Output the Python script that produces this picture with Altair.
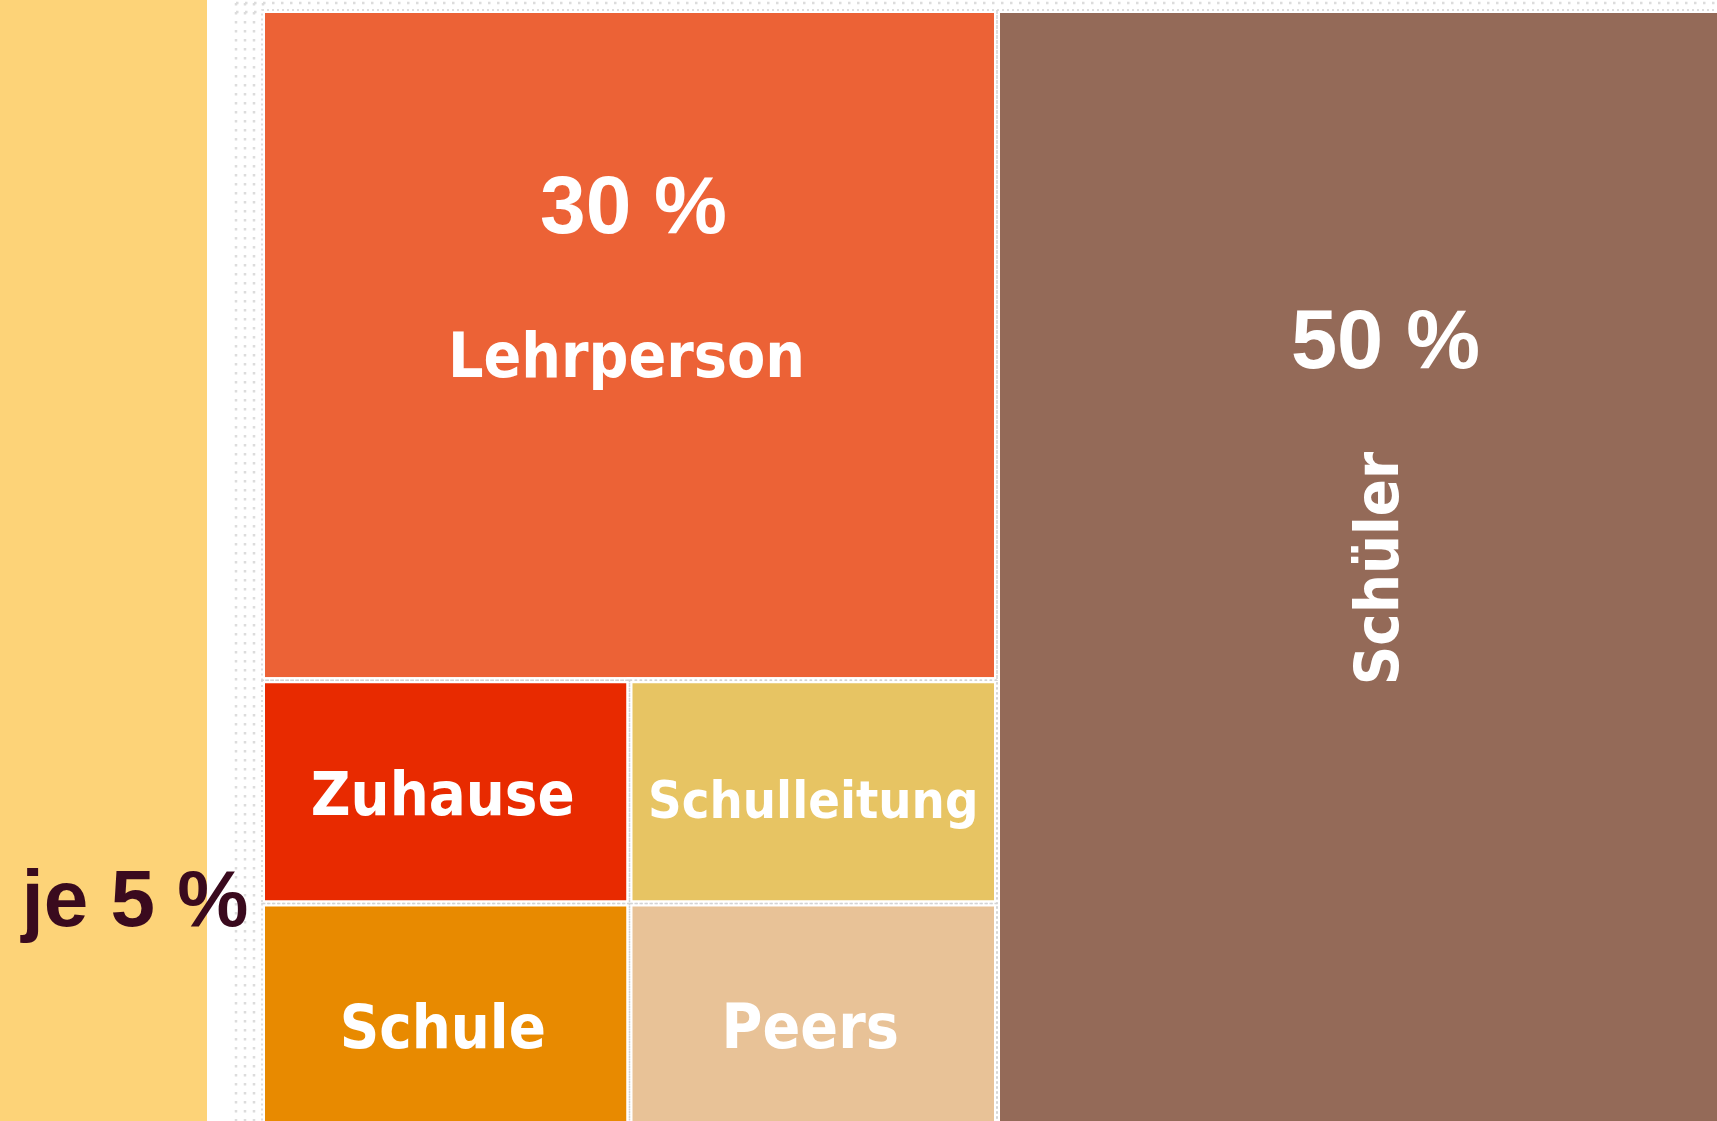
import altair as alt
import pandas as pd

# ---- data -------------------------------------------------------------
categories = ["Schüler", "Lehrperson", "Zuhause", "Schulleitung", "Schule", "Peers"]
shares = [50, 30, 5, 5, 5, 5]
colors = ["#946A58", "#EC6236", "#E82A00", "#E7C463", "#E88A00", "#E8C297"]
pct_labels = {"Schüler": "50 %", "Lehrperson": "30 %"}
side_label = "je 5 %"

# ---- treemap layout (slice and dice on a 0..100 square) ----------------
big, second = shares[0], shares[1]
left_w = 100 - big
rows = [dict(cat=categories[0], share=shares[0], x0=left_w, x1=100, y0=0, y1=100)]
h2 = second / left_w * 100
rows.append(dict(cat=categories[1], share=shares[1], x0=0, x1=left_w, y0=0, y1=h2))
small = categories[2:]
cw = left_w / 2
ch = (100 - h2) / 2
for i, c in enumerate(small):
    r, col = divmod(i, 2)
    rows.append(dict(cat=c, share=shares[2 + i], x0=col * cw, x1=(col + 1) * cw,
                     y0=h2 + r * ch, y1=h2 + (r + 1) * ch))
df = pd.DataFrame(rows)
df["cx"] = (df.x0 + df.x1) / 2
df["cy"] = (df.y0 + df.y1) / 2

X = alt.Scale(domain=[0, 100], range=[262, 1732])
Y = alt.Scale(domain=[0, 100], range=[10, 1127])

base = alt.Chart(df)

strip = alt.Chart(pd.DataFrame({"k": [0]})).mark_rect(color="#FDD378").encode(
    x=alt.value(0), x2=alt.value(207), y=alt.value(0), y2=alt.value(1121)
)

rects = base.mark_rect(stroke="white", strokeWidth=6).encode(
    x=alt.X("x0:Q", scale=X, axis=None),
    x2="x1:Q",
    y=alt.Y("y0:Q", scale=Y, axis=None),
    y2="y1:Q",
    color=alt.Color("cat:N", scale=alt.Scale(domain=categories, range=colors), legend=None),
)

edges = base.mark_rect(fillOpacity=0, stroke="#d4d4d4", strokeWidth=1.5,
                       strokeDash=[2, 3]).encode(
    x=alt.X("x0:Q", scale=X, axis=None), x2="x1:Q",
    y=alt.Y("y0:Q", scale=Y, axis=None), y2="y1:Q",
)

# background dot grid (decoration)
dotdf = pd.DataFrame({"k": [0]})
dots = []
for px in range(236, 266, 9):
    dots.append(alt.Chart(dotdf).mark_rule(color="#dcdcdc", strokeWidth=2.5, strokeDash=[2.5, 6.5]).encode(
        x=alt.value(px), y=alt.value(3), y2=alt.value(1121)))
for py in (3, 12):
    dots.append(alt.Chart(dotdf).mark_rule(color="#dcdcdc", strokeWidth=2.5, strokeDash=[2.5, 6.5]).encode(
        y=alt.value(py), x=alt.value(236), x2=alt.value(1717)))

name_font = "DejaVu Sans Condensed, DejaVu Sans, sans-serif"
pct_font = "Liberation Sans"
name_style = {
    "Lehrperson": dict(size=62, dx=-3, dy=32, angle=0),
    "Schüler": dict(size=61, dx=0, dy=33, angle=270),
    "Zuhause": dict(size=61, dx=-3, dy=23, angle=0),
    "Schulleitung": dict(size=52, dx=0, dy=26, angle=0),
    "Schule": dict(size=61, dx=-3, dy=33, angle=0),
    "Peers": dict(size=62, dx=-3, dy=33, angle=0),
}
pct_style = {
    "Lehrperson": dict(size=82, dx=4, dy=-112),
    "Schüler": dict(size=83, dx=21, dy=-201),
}

texts = []
for c in categories:
    s = name_style[c]
    texts.append(base.transform_filter(alt.datum.cat == c).mark_text(
        font=name_font, fontWeight="bold", fontSize=s["size"], color="white",
        align="center", baseline="alphabetic", dx=s["dx"], dy=s["dy"], angle=s["angle"],
    ).encode(
        x=alt.X("cx:Q", scale=X, axis=None), y=alt.Y("cy:Q", scale=Y, axis=None),
        text="cat:N"))
for c, lab in pct_labels.items():
    s = pct_style[c]
    texts.append(base.transform_filter(alt.datum.cat == c).mark_text(
        font=pct_font, fontWeight="bold", fontSize=s["size"], color="white",
        align="center", baseline="alphabetic", dx=s["dx"], dy=s["dy"],
    ).encode(
        x=alt.X("cx:Q", scale=X, axis=None), y=alt.Y("cy:Q", scale=Y, axis=None),
        text=alt.value(lab)))

side_df = pd.DataFrame({"yb": [h2 + ch], "t": [side_label]})
side = alt.Chart(side_df).mark_text(
    font=pct_font, fontWeight="bold", fontSize=80, color="#3A0A1E",
    align="center", baseline="alphabetic", dy=22,
).encode(x=alt.value(135), y=alt.Y("yb:Q", scale=Y, axis=None), text="t:N")

chart = alt.layer(strip, *dots, rects, edges, *texts, side).properties(
    width=1717, height=1121, padding=0, autosize=alt.AutoSizeParams(type="none"),
    background="white",
).configure_view(stroke=None)

chart.save("out.html", embed_options={"renderer": "svg", "actions": False})
